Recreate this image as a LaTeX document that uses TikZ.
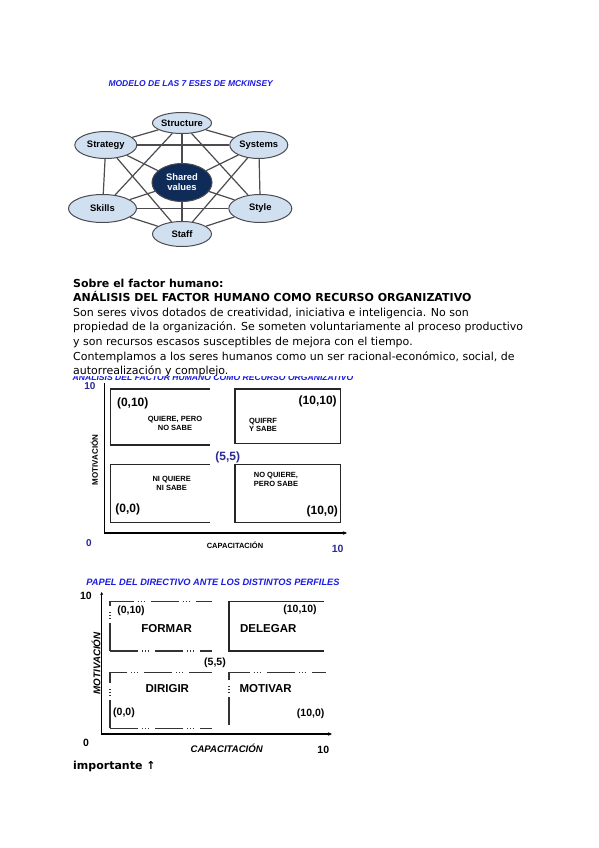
\documentclass[tikz,border=0pt]{standalone}
\usepackage{fontspec}
\setmainfont{Liberation Sans}
\newfontfamily\dejavu{DejaVu Sans}
\usepackage{xcolor}
\usetikzlibrary{shapes.geometric,arrows.meta,positioning}
\definecolor{mkfill}{RGB}{208,224,241}
\definecolor{mknavy}{RGB}{15,44,88}
\definecolor{mkline}{RGB}{75,75,80}
\definecolor{ttlblue}{RGB}{28,28,225}
\definecolor{numblue}{RGB}{42,42,150}

\begin{document}
\begin{tikzpicture}[x=1pt, y=-1pt,
    sbox/.style={draw=mkline, ellipse, fill=mkfill, inner sep=0pt, line width=1pt,
                 font=\fontsize{9.4}{10}\selectfont\bfseries},
    link/.style={draw=mkline, line width=1.2pt},
    ttl/.style={font=\fontsize{#1}{#1}\selectfont\bfseries\itshape, text=ttlblue, inner sep=0pt},
    gbox/.style={draw=black!85, line width=1.2pt},
    gdash/.style={draw=black!80, line width=1.1pt,
                  dash pattern=on 28pt off 4pt on 1pt off 2pt on 1pt off 2pt on 1pt off 6pt},
    axis/.style={draw=black, line width=1.5pt, -{Stealth[length=4pt,width=3.5pt]}},
    lbl/.style={font=\fontsize{#1}{#1}\selectfont\bfseries, inner sep=0pt},
    small/.style={font=\fontsize{7.5}{8.6}\selectfont\bfseries, align=center, inner sep=0pt}
]
\path[use as bounding box, fill=white] (0,0) rectangle (599,848);

% modelo de las 7 eses
\node[ttl=8.5] (mktitle) at (190.7,83.3) {MODELO DE LAS 7 ESES DE MCKINSEY};
\node[sbox, minimum width=59pt, minimum height=21pt] (str) at (182,123) {Structure};
\node[sbox, minimum width=62pt, minimum height=27pt] (stg) at (105.8,145) {Strategy};
\node[sbox, minimum width=58pt, minimum height=27pt] (sys) at (258.8,145) {Systems};
\node[sbox, minimum width=60pt, minimum height=38pt, fill=mknavy, text=white, align=center,
      font=\fontsize{9.4}{10}\selectfont\bfseries] (sv) at (182,182.5) {Shared\\values};
\node[sbox, minimum width=68pt, minimum height=28pt] (ski) at (102.5,208.5) {Skills};
\node[sbox, minimum width=63pt, minimum height=28pt] (sty) at (260.3,208.5) {Style};
\node[sbox, minimum width=59pt, minimum height=25pt] (sta) at (182,234) {Staff};
\foreach \a/\b in {stg/str, str/sys, sys/sty, sty/sta, sta/ski, ski/stg,
                   stg/sys, sys/sta, sta/stg, str/ski, ski/sty, sty/str,
                   sv/str, sv/stg, sv/sys, sv/ski, sv/sty, sv/sta}
  \draw[link] (\a) -- (\b);

% texto
\begin{scope}
  \clip (60,376.5) rectangle (370,384);
  \node[ttl=8.6, anchor=base] (hidttl) at (213,380.5) {ANÁLISIS DEL FACTOR HUMANO COMO RECURSO ORGANIZATIVO};
\end{scope}
\node[anchor=north west, inner sep=0pt, align=left, font=\dejavu\fontsize{11}{14.6}\selectfont] (body) at (73,278.6)
  {\textbf{Sobre el factor humano:}\\
   \textbf{ANÁLISIS DEL FACTOR HUMANO COMO RECURSO ORGANIZATIVO}\\
   Son seres vivos dotados de creatividad, iniciativa e inteligencia. No son\\
   propiedad de la organización. Se someten voluntariamente al proceso productivo\\
   y son recursos escasos susceptibles de mejora con el tiempo.\\
   Contemplamos a los seres humanos como un ser racional-económico, social, de\\
   autorrealización y complejo.};

% analisis del factor humano
\coordinate (y1top) at (104.3,383);
\coordinate (o1) at (104.3,533);
\coordinate (x1end) at (347,533);
\draw[axis] (y1top) -- (o1) -- (x1end);
\draw[gbox] (210,389) -- (110.7,389) -- (110.7,445) -- (210,445);
\draw[gbox] (235,389) rectangle (340.7,443.5);
\draw[gbox] (210,464.3) -- (110.7,464.3) -- (110.7,522.7) -- (210,522.7);
\draw[gbox] (235,464.3) rectangle (340.7,522.7);
\node[lbl=10, text=numblue] (m1ten) at (90,386) {10};
\node[lbl=10, text=numblue] (m1zero) at (89,543.3) {0};
\node[lbl=10.5, text=numblue] (c1ten) at (337.7,549) {10};
\node[lbl=7.5] (c1lbl) at (235,545) {CAPACITACIÓN};
\node[lbl=8, rotate=90] (m1lbl) at (94.3,460) {MOTIVACIÓN};
\node[lbl=12] (p010) at (132.7,403.3) {(0,10)};
\node[lbl=12] (p1010) at (317.7,401.7) {(10,10)};
\node[lbl=12, text=numblue] (p55) at (227.7,457.3) {(5,5)};
\node[lbl=12] (p00) at (127.7,509.3) {(0,0)};
\node[lbl=12] (p100) at (322.3,511.7) {(10,0)};
\node[small] (q1) at (175,423.3) {QUIERE, PERO\\NO SABE};
\node[small, align=left] (q2) at (263,425) {QUIFRF\\Y SABE};
\node[small] (q3) at (171.7,483.3) {NI QUIERE\\NI SABE};
\node[small, align=left] (q4) at (276,479.3) {NO QUIERE,\\PERO SABE};

% papel del directivo
\node[ttl=9.25] (dirttl) at (213,582.7) {PAPEL DEL DIRECTIVO ANTE LOS DISTINTOS PERFILES};
\coordinate (y2top) at (101.7,592);
\coordinate (o2) at (101.7,734);
\coordinate (x2end) at (332,734);
\draw[axis, line width=1.2pt, {Stealth[length=3pt,width=3pt]}-{Stealth[length=4pt,width=3.5pt]}] (y2top) -- (o2) -- (x2end);
\draw[gdash] (110,651) -- (110,601.7) -- (211.7,601.7);
\draw[gdash] (110,651) -- (211.7,651);
\draw[gbox, line width=1.1pt] (324,601.7) -- (229,601.7) -- (229,651) -- (324,651);
\draw[gdash] (110,728.3) -- (110,672.7) -- (211.7,672.7);
\draw[gdash] (110,728.3) -- (211.7,728.3);
\draw[gdash] (229,725) -- (229,672.7) -- (326,672.7);
\node[lbl=10.5] (m2ten) at (86,596) {10};
\node[lbl=10.5] (m2zero) at (86,743.3) {0};
\node[lbl=10.5] (c2ten) at (323.3,750) {10};
\node[lbl=9.6, font=\fontsize{9.6}{9.6}\selectfont\bfseries\itshape] (c2lbl) at (226.7,748.3) {CAPACITACIÓN};
\node[lbl=9.8, font=\fontsize{9.8}{9.8}\selectfont\bfseries\itshape, rotate=90] (m2lbl) at (96,663.3) {MOTIVACIÓN};
\node[lbl=10.5] (d010) at (131,610.7) {(0,10)};
\node[lbl=10.5] (d1010) at (300,609.3) {(10,10)};
\node[lbl=10.5] (d55) at (215,662.3) {(5,5)};
\node[lbl=10.5] (d00) at (124,712.7) {(0,0)};
\node[lbl=10.5] (d100) at (310.7,713.3) {(10,0)};
\node[lbl=11.5] (formar) at (166.7,629) {FORMAR};
\node[lbl=11.5] (delegar) at (268.3,629) {DELEGAR};
\node[lbl=11.5] (dirigir) at (167.3,689) {DIRIGIR};
\node[lbl=11.5] (motivar) at (265.7,689) {MOTIVAR};
\node[anchor=base west, inner sep=0pt, font=\dejavu\fontsize{11}{12}\selectfont\bfseries] (imp) at (73,769.5) {importante ↑};
\end{tikzpicture}
\end{document}
